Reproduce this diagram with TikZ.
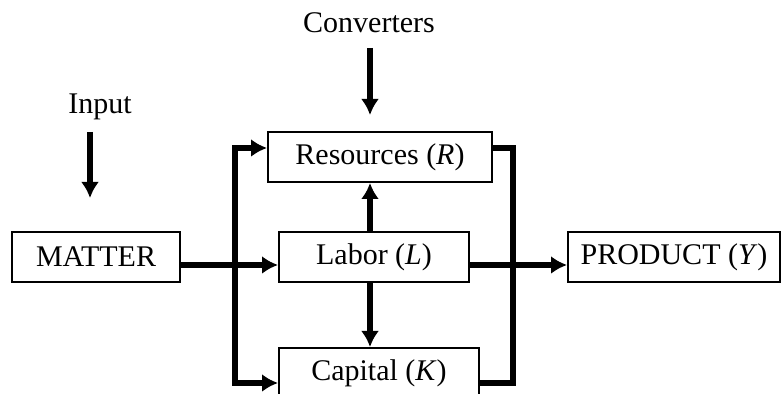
\documentclass[tikz,border=0pt]{standalone}
\usepackage{fontspec}
\setmainfont{Liberation Serif}
\usetikzlibrary{arrows.meta,positioning,calc}

\begin{document}
\begin{tikzpicture}[
  x=0.5pt, y=-0.5pt,
  box/.style={draw, line width=1pt, minimum height=25pt, inner sep=0pt, font=\fontsize{15}{18}\selectfont},
  label/.style={inner sep=0pt, font=\fontsize{15}{18}\selectfont},
  arrow/.style={-{Latex[length=8pt, width=9pt]}, line width=3pt},
  link/.style={line width=3pt, line join=miter}
]
  \useasboundingbox (0,0) rectangle (782,394);
  \node[box, minimum width=84pt] (matter) at (96,257) {MATTER};
  \node[box, minimum width=112pt] (res) at (380,157) {Resources (\textit{R})};
  \node[box, minimum width=95pt] (lab) at (374,257) {Labor (\textit{L})};
  \node[box, minimum width=100pt] (cap) at (379,373) {Capital (\textit{K})};
  \node[box, minimum width=106pt] (prod) at (674,257) {PRODUCT (\textit{Y})};
  \node[label] (input) at (100,107) {Input};
  \node[label] (conv) at (369,23) {Converters};
  % feeds from above
  \coordinate (inTop) at (90,132);
  \coordinate (inEnd) at (90,198);
  \coordinate (cvTop) at (370,48);
  \coordinate (cvEnd) at (370,115);
  \draw[arrow] (inTop) -- (inEnd);
  \draw[arrow] (cvTop) -- (cvEnd);
  % branch lines
  \coordinate (lt) at (235,148);
  \coordinate (lb) at (235,383);
  \coordinate (rt) at (513,148);
  \coordinate (rb) at (513,383);
  \coordinate (mid) at (0,265);
  \draw[link, {Latex[length=8pt, width=9pt]}-{Latex[length=8pt, width=9pt]}] (res.west |- lt) -- (lt) -- (lb) -- (cap.west |- lb);
  \draw[link] (res.east |- rt) -- (rt) -- (rb) -- (cap.east |- rb);
  \draw[arrow] (matter.east |- mid) -- (lab.west |- mid);
  \draw[arrow] (lab.east |- mid) -- (prod.west |- mid);
  \draw[arrow] (lab.north -| cvEnd) -- (res.south -| cvEnd);
  \draw[arrow] (lab.south -| cvEnd) -- (cap.north -| cvEnd);
\end{tikzpicture}
\end{document}
